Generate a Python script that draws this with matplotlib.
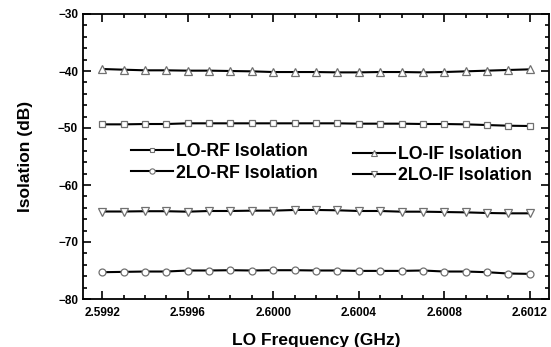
import matplotlib
matplotlib.use("Agg")
import matplotlib.pyplot as plt
import numpy as np
from matplotlib.ticker import MultipleLocator, FormatStrFormatter
from matplotlib.lines import Line2D

plt.rcParams['font.family'] = ['Liberation Sans', 'DejaVu Sans']
plt.rcParams['font.weight'] = 'bold'

freq = [2.5992, 2.5993, 2.5994, 2.5995, 2.5996, 2.5997, 2.5998, 2.5999, 2.6000,
        2.6001, 2.6002, 2.6003, 2.6004, 2.6005, 2.6006, 2.6007, 2.6008, 2.6009,
        2.6010, 2.6011, 2.6012]

lo_rf = [-49.36, -49.36, -49.30, -49.30, -49.18, -49.18, -49.18, -49.18, -49.18,
         -49.18, -49.18, -49.18, -49.24, -49.24, -49.24, -49.30, -49.30, -49.36,
         -49.48, -49.60, -49.65]
lo_if = [-39.65, -39.77, -39.88, -39.88, -39.94, -39.94, -40.00, -40.06, -40.18,
         -40.18, -40.18, -40.24, -40.24, -40.18, -40.18, -40.24, -40.18, -40.06,
         -39.94, -39.82, -39.71]
lo2_rf = [-75.30, -75.24, -75.18, -75.18, -75.00, -75.00, -74.95, -75.00, -74.95,
          -74.95, -75.00, -75.00, -75.07, -75.07, -75.07, -75.00, -75.18, -75.18,
          -75.30, -75.53, -75.59]
lo2_if = [-64.65, -64.65, -64.60, -64.60, -64.68, -64.56, -64.56, -64.50, -64.50,
          -64.38, -64.38, -64.44, -64.56, -64.56, -64.68, -64.68, -64.74, -64.80,
          -64.91, -64.97, -64.97]

labels = ['LO-RF Isolation', '2LO-RF Isolation', 'LO-IF Isolation', '2LO-IF Isolation']

fig = plt.figure(figsize=(5.51, 3.47), dpi=100)
ax = fig.add_axes([83/551, 1-299/347, (549-83)/551, (299-14)/347])

mec = '#707070'
style = dict(color='black', lw=1.5, mfc='white', mec=mec, mew=0.9)
ax.plot(freq, lo_rf, marker='s', ms=4.5, **style)
ax.plot(freq, lo2_rf, marker='o', ms=5, **style)
ax.plot(freq, lo_if, marker='^', ms=6, **style)
ax.plot(freq, lo2_if, marker='v', ms=6, **style)

ax.set_xlim(2.59911, 2.60129)
ax.set_ylim(-80, -30)
ax.xaxis.set_major_locator(MultipleLocator(0.0004))
ax.xaxis.set_minor_locator(MultipleLocator(0.0001))
ax.xaxis.set_major_formatter(FormatStrFormatter('%.4f'))
ax.yaxis.set_major_locator(MultipleLocator(10))
ax.yaxis.set_minor_locator(MultipleLocator(2))
ax.tick_params(which='both', direction='in', top=True, right=True, width=1.2,
               labelsize=8.5)
ax.tick_params(which='major', length=5.5)
ax.tick_params(which='minor', length=3)
ax.tick_params(axis='x', which='major', pad=6)
for s in ax.spines.values():
    s.set_linewidth(1.3)
for t in ax.get_xticklabels() + ax.get_yticklabels():
    t.set_fontweight('bold')

ax.set_xlabel('LO Frequency (GHz)', fontsize=12.5, fontweight='bold', labelpad=10)
ax.set_ylabel('Isolation (dB)', fontsize=12.5, fontweight='bold', labelpad=18)

def handle(m, ms):
    return Line2D([], [], color='black', lw=1.5, marker=m, ms=ms, mfc='white', mec=mec, mew=0.8)

common = dict(loc='upper left', frameon=False, handlelength=2.35, handletextpad=0.2,
              borderpad=0, borderaxespad=0, numpoints=1,
              prop={'weight': 'bold', 'size': 12.8})
leg1 = fig.legend([handle('s', 3.5), handle('o', 3.8)], labels[:2],
                  bbox_to_anchor=(131/551, 1-143/347), labelspacing=0.26, **common)
leg2 = fig.legend([handle('^', 4.5), handle('v', 4.5)], labels[2:],
                  bbox_to_anchor=(353/551, 1-146/347), labelspacing=0.22, **common)

fig.savefig('out.png', dpi=100)
